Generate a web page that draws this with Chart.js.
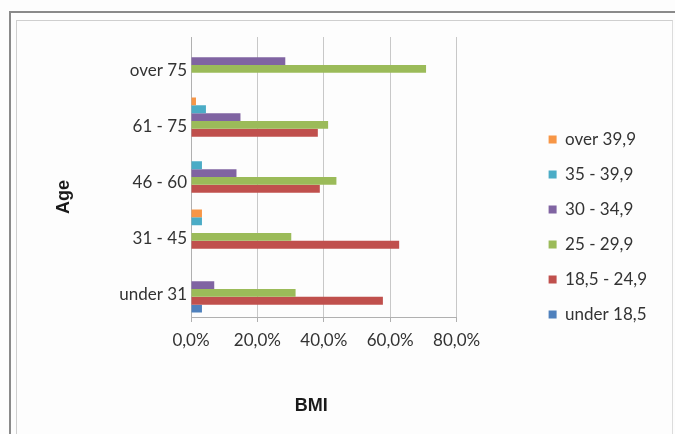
<!DOCTYPE html>
<html>
<head>
<meta charset="utf-8">
<script src="https://cdn.jsdelivr.net/npm/chart.js@4"></script>
<style>
  html, body { margin: 0; padding: 0; background: #ffffff; }
  #wrap { position: relative; width: 675px; height: 434px; overflow: hidden; background: #fdfdfd; }
  #outer { position: absolute; left: 9px; top: 11px; width: 700px; height: 450px; border-top: 2px solid #8a8a8a; border-left: 2px solid #8a8a8a; }
  #inner { position: absolute; left: 16px; top: 20px; width: 655px; height: 450px; border-top: 1px solid #cfcfcf; border-left: 1px solid #cfcfcf; border-right: 1px solid #dcdcdc; }
  canvas { position: absolute; left: 0; top: 0; }
</style>
</head>
<body>
<div id="wrap">
  <div id="outer"></div>
  <div id="inner"></div>
  <canvas id="c" width="675" height="434"></canvas>
</div>
<script>
// Categories, top to bottom as drawn
const categories = ['over 75', '61 - 75', '46 - 60', '31 - 45', 'under 31'];
// Series names (legend order, top to bottom)
const seriesNames = ['over 39,9', '35 - 39,9', '30 - 34,9', '25 - 29,9', '18,5 - 24,9', 'under 18,5'];
// Values in percent, per category above
const over39_9   = [0, 1.5, 0, 3.3, 0];
const bmi35_39_9 = [0, 4.5, 3.3, 3.3, 0];
const bmi30_34_9 = [28.4, 14.9, 13.7, 0, 7.0];
const bmi25_29_9 = [70.8, 41.3, 43.8, 30.2, 31.5];
const bmi18_24_9 = [0, 38.2, 38.8, 62.7, 57.8];
const under18_5  = [0, 0, 0, 0, 3.3];
const xTicks = [0, 20, 40, 60, 80];

const seriesValues = [over39_9, bmi35_39_9, bmi30_34_9, bmi25_29_9, bmi18_24_9, under18_5];
const seriesColors = ['#F79646', '#4BACC6', '#8064A2', '#9BBB59', '#C0504D', '#4F81BD'];

const tickFont = { family: 'Lato', size: 17 };

new Chart(document.getElementById('c'), {
  type: 'bar',
  data: {
    labels: categories,
    datasets: seriesNames.map((name, i) => ({
      label: name,
      data: seriesValues[i],
      backgroundColor: seriesColors[i],
      borderWidth: 0,
      barPercentage: 1.0,
      categoryPercentage: 0.84
    }))
  },
  options: {
    indexAxis: 'y',
    responsive: false,
    animation: false,
    devicePixelRatio: 1,
    layout: { padding: { left: 20, top: 37, right: 18, bottom: 17 } },
    plugins: {
      legend: {
        position: 'right',
        maxWidth: 220,
        labels: {
          boxWidth: 8,
          boxHeight: 8,
          padding: 18,
          color: '#333333',
          font: { family: 'Lato', size: 17 }
        }
      },
      tooltip: { enabled: false }
    },
    scales: {
      x: {
        min: 0,
        max: 80,
        afterBuildTicks: (s) => { s.ticks = xTicks.map(v => ({ value: v })); },
        ticks: {
          color: '#333333',
          font: tickFont,
          padding: 8,
          callback: (v) => v.toFixed(1).replace('.', ',') + '%'
        },
        grid: { color: '#c8c8c8', tickLength: 5, tickColor: '#b0b0b0' },
        border: { color: '#b0b0b0' },
        title: {
          display: true,
          text: 'BMI     ',
          color: '#1a1a1a',
          font: { family: 'Liberation Sans', size: 18, weight: 'bold' },
          padding: { top: 0, bottom: 0 }
        },
        afterFit: (s) => { s.height = 100; }
      },
      y: {
        ticks: { color: '#333333', font: tickFont, padding: 4, labelOffset: 6 },
        grid: { display: false, drawTicks: false },
        border: { color: '#b0b0b0' },
        title: {
          display: true,
          text: 'Age        ',
          color: '#1a1a1a',
          font: { family: 'Liberation Sans', size: 18, weight: 'bold' },
          padding: { top: 33, bottom: 0 }
        },
        afterFit: (s) => { s.width = 171; }
      },
      gap: {
        type: 'category',
        labels: categories,
        position: 'right',
        display: true,
        ticks: { display: false },
        grid: { display: false, drawTicks: false },
        border: { display: false },
        afterFit: (s) => { s.width = 74; }
      }
    }
  }
});
</script>
</body>
</html>
